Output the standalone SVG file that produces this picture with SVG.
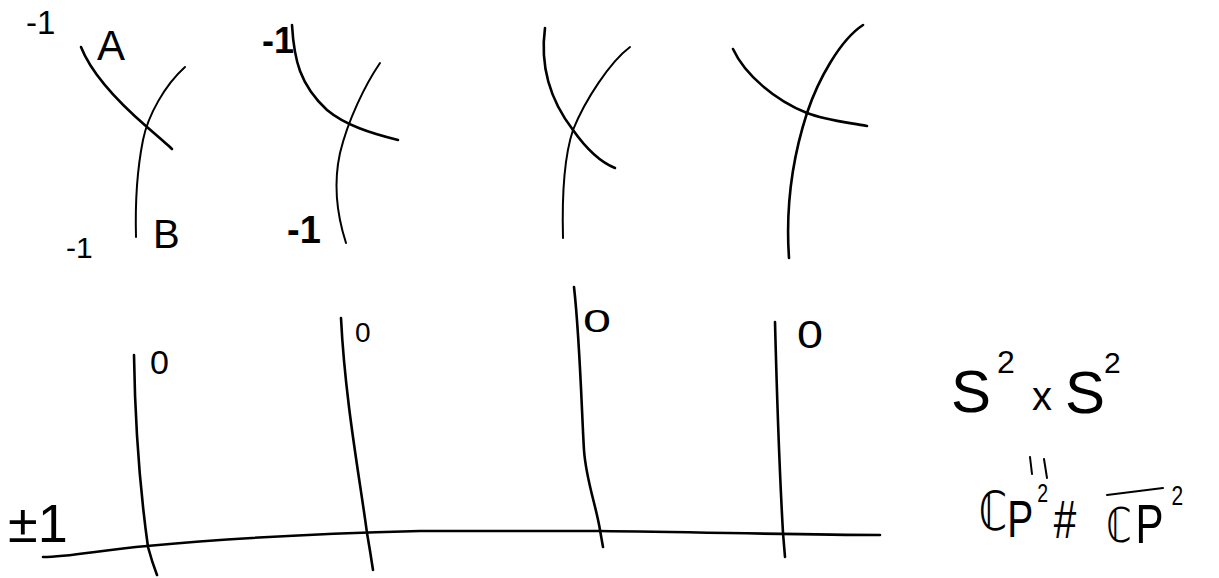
<svg xmlns="http://www.w3.org/2000/svg" width="1219" height="578" viewBox="0 0 1219 578">
<style>
.s{fill:none;stroke:#000;stroke-width:2.6;stroke-linecap:round;stroke-linejoin:round}
.t{fill:none;stroke:#000;stroke-width:2;stroke-linecap:round}
.h{font-family:"Liberation Sans","DejaVu Sans",sans-serif;fill:#000}
</style>
<rect width="1219" height="578" fill="#fff"/>
<g id="panel1">
<path class="s" d="M81,47 C90,70 110,95 147,127 S165,143 172,149"/>
<path class="t" d="M185,67 C165,85 148,115 143,140 C138,165 135,200 136,237"/>
<text class="h" x="26" y="34" font-size="33">-1</text>
<text class="h" x="97" y="60" font-size="42">A</text>
<text class="h" x="66" y="258" font-size="30">-1</text>
<text class="h" x="153" y="248" font-size="40">B</text>
</g>
<g id="panel2">
<path class="s" d="M292,25 C294,60 300,85 327,110 C345,125 370,133 398,140"/>
<path class="t" d="M380,63 C365,85 348,120 340,153 C333,185 337,215 346,243"/>
<text class="h" x="262" y="53" font-size="36" font-weight="bold">-1</text>
<text class="h" x="287" y="243" font-size="38" font-weight="bold">-1</text>
</g>
<g id="panel3">
<path class="s" d="M545,28 C540,65 550,100 573,130 C585,147 600,162 615,168"/>
<path class="t" d="M630,47 C610,62 585,100 573,130 C563,160 562,200 563,238"/>
</g>
<g id="panel4">
<path class="s" d="M733,49 C745,75 775,100 807,113 C825,120 845,122 867,126"/>
<path class="s" d="M863,25 C840,40 818,80 807,113 C795,150 785,200 789,258"/>
</g>
<g id="connectors">
<path class="s" d="M43,557 C70,557 100,550 147,546 C220,539 300,534 420,531 L600,531 C700,532 800,535 880,535"/>
<path class="s" d="M134,355 C135,420 140,490 148,547 Q152,562 157,575"/>
<path class="s" d="M341,318 C345,400 360,480 367,533 Q370,550 373,570"/>
<path class="s" d="M574,287 C580,340 582,420 584,450 C586,480 596,505 600,530 L603,547"/>
<path class="s" d="M775,322 C777,400 780,480 783,533 L785,557"/>
</g>
<g id="framings">
<text class="h" x="150" y="374" font-size="34">0</text>
<text class="h" x="355" y="342" font-size="28">0</text>
<text class="h" x="583" y="332" font-size="32" textLength="28" lengthAdjust="spacingAndGlyphs">0</text>
<text class="h" x="797" y="348" font-size="38" textLength="26" lengthAdjust="spacingAndGlyphs">0</text>
<text class="h" x="8" y="542" font-size="54">±1</text>
</g>
<g id="result">
<text class="h" y="412" font-size="60"><tspan x="951">S</tspan><tspan x="997" y="373" font-size="32">2</tspan><tspan x="1032" y="410" font-size="40">x</tspan><tspan x="1065" y="413">S</tspan><tspan x="1104" y="373" font-size="30">2</tspan></text>
<path class="t" d="M1030,457 L1032,474 M1044,459 L1047,478"/>
<g transform="scale(0.75,1)">
<text class="h" y="530" font-size="54"><tspan x="1305">ℂ</tspan><tspan x="1343" y="537" font-size="52">P</tspan><tspan x="1383" y="502" font-size="26">2</tspan><tspan x="1405" y="538" font-size="54">#</tspan><tspan x="1475" y="542" font-size="48">ℂ</tspan><tspan x="1514" y="543" font-size="56">P</tspan><tspan x="1562" y="505" font-size="28">2</tspan></text>
</g>
<path class="t" d="M1107,495 L1163,488"/>
</g>
</svg>
